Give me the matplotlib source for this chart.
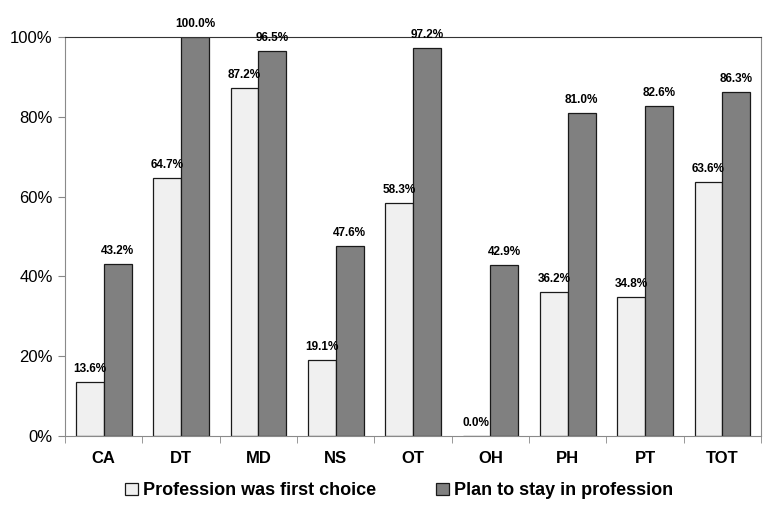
import numpy as np
import matplotlib
matplotlib.use("Agg")
from matplotlib import pyplot as plt
from matplotlib import font_manager
from matplotlib.ticker import PercentFormatter

categories = ["CA", "DT", "MD", "NS", "OT", "OH", "PH", "PT", "TOT"]
first_choice = [13.6, 64.7, 87.2, 19.1, 58.3, 0.0, 36.2, 34.8, 63.6]
plan_to_stay = [43.2, 100.0, 96.5, 47.6, 97.2, 42.9, 81.0, 82.6, 86.3]
series_names = ["Profession was first choice", "Plan to stay in profession"]

names = {f.name for f in font_manager.fontManager.ttflist}
narrow = "Liberation Sans Narrow" if "Liberation Sans Narrow" in names else "Liberation Sans"
plt.rcParams['font.family'] = ['Liberation Sans', 'DejaVu Sans']

fig = plt.figure(figsize=(7.72, 5.14), dpi=100)
ax = fig.add_axes([0.0842, 0.1518, 0.9016, 0.7762])

x = np.arange(len(categories))
w = 0.36
b1 = ax.bar(x - w / 2, first_choice, w, color="#f0f0f0", edgecolor="#1a1a1a", linewidth=0.9,
            label=series_names[0])
b2 = ax.bar(x + w / 2, plan_to_stay, w, color="#808080", edgecolor="#1a1a1a", linewidth=0.9,
            label=series_names[1])

for bars, vals in [(b1, first_choice), (b2, plan_to_stay)]:
    for bar, v in zip(bars, vals):
        ax.annotate(f"{v:.1f}%", (bar.get_x() + bar.get_width() / 2, v),
                    xytext=(0, 5), textcoords="offset points", ha="center", va="bottom",
                    fontsize=8.5, fontweight="bold", family=[narrow, 'DejaVu Sans'], clip_on=False)

ax.set_xlim(-0.5, len(categories) - 0.5)
ax.set_ylim(0, 100)
ax.yaxis.set_major_formatter(PercentFormatter(decimals=0))
ax.set_yticks(np.arange(0, 101, 20))
ax.set_xticks(x)
ax.set_xticklabels(categories, fontsize=12, fontweight="bold")
ax.set_xticks(np.arange(-0.5, len(categories), 1), minor=True)
ax.tick_params(axis="x", which="major", length=0, pad=11)
ax.tick_params(axis="x", which="minor", length=5, color="#888888")
ax.tick_params(axis="y", length=5, color="#888888", labelsize=12, pad=4)

for side in ["left", "bottom", "right"]:
    ax.spines[side].set_color("#8a8a8a")
ax.spines["top"].set_color("#333333")

fig.legend(handles=[b1, b2], loc="center", bbox_to_anchor=(0.517, 0.045), ncol=2, frameon=False,
           prop={"size": 13, "weight": "bold"}, handlelength=0.7, handleheight=0.7,
           handletextpad=0.3, columnspacing=3.3)

plt.savefig("out.png", dpi=100)
plt.close()
